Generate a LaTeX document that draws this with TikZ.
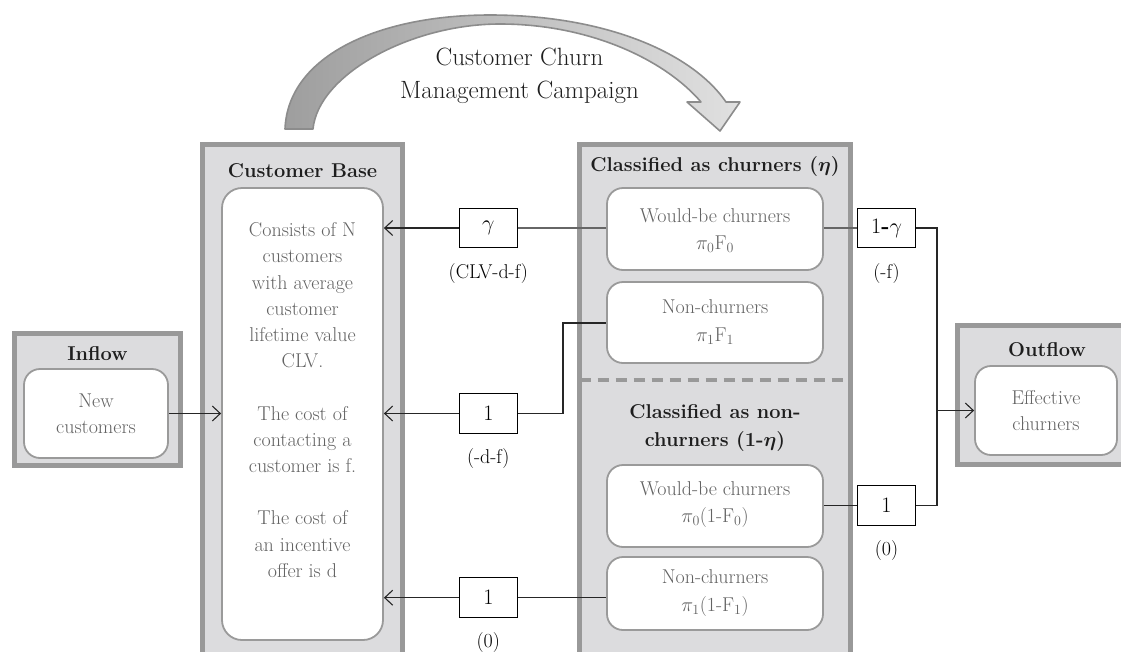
\RequirePackage{fix-cm}
\documentclass[tikz,border=0pt]{standalone}
\usepackage{amsmath,bm}
\usetikzlibrary{arrows.meta}
\definecolor{obord}{HTML}{999999}
\definecolor{ofill}{HTML}{DCDCDE}
\definecolor{ibord}{HTML}{9A9A9A}
\definecolor{btext}{HTML}{636363}
\definecolor{ttext}{HTML}{1E1E1E}
\begin{document}
\begin{tikzpicture}[x=1pt,y=-1pt,
  outerbox/.style={draw=obord, line width=5pt, fill=ofill, inner sep=0pt, outer sep=0pt},
  innerbox/.style={draw=ibord, line width=1.8pt, fill=white, rounded corners=16pt, inner sep=0pt},
  body/.style={text=btext, font=\fontsize{20}{26.2}\selectfont, align=center, inner sep=0pt},
  boxtext/.style={text=btext, font=\fontsize{20}{27.5}\selectfont, align=center, inner sep=0pt},
  title/.style={text=ttext, font=\fontsize{20}{28.7}\selectfont\bfseries, align=center, inner sep=0pt},
  lbox/.style={draw=black, line width=1pt, fill=white, minimum width=58pt, minimum height=39.5pt, inner sep=0pt, font=\fontsize{22}{26}\selectfont},
  lab/.style={font=\fontsize{20}{24}\selectfont, inner sep=0pt, anchor=base},
  conn/.style={draw=black!85, line width=1.1pt},
  connl/.style={draw=black!60, line width=1.1pt},
  arr/.style={conn, -{Straight Barb[length=8pt,width=15pt,line width=1.1pt]}},
]
\useasboundingbox (0,0) rectangle (1121,651);
\clip (0,0) rectangle (1121,651);

% curved campaign arrow
\shadedraw[left color=black!38, right color=black!12, draw=black!45, line width=1.6pt, line join=round]
  (285,129) .. controls (288,55) and (380,15) .. (490,15)
  .. controls (600,15) and (690,50) .. (726,102)
  -- (740,102) -- (720,131) -- (687,102) -- (701,102)
  .. controls (665,60) and (590,24) .. (500,24)
  .. controls (410,24) and (318,75) .. (313,129) -- cycle;
\node[font=\fontsize{25}{33}\selectfont, text=ttext, align=center, inner sep=0pt] (camp) at (519.5,76.3) {Customer Churn\\Management Campaign};

% outer boxes
\node[outerbox, minimum width=200pt, minimum height=555.5pt] (cbo) at (302.5,422.25) {};
\node[outerbox, minimum width=166pt, minimum height=132.5pt] (ifo) at (97.5,399.25) {};
\node[outerbox, minimum width=165.5pt, minimum height=139pt] (ofo) at (1040.25,395) {};
\node[outerbox, minimum width=271pt, minimum height=555.5pt] (clo) at (715,422.25) {};
\draw[obord, line width=4pt, dash pattern=on 11pt off 7pt] (clo.west |- 0,380) -- (clo.east |- 0,380);

% inner boxes
\node[innerbox, rounded corners=20pt, minimum width=161pt, minimum height=452pt] (cbi) at (302.5,414) {};
\node[innerbox, minimum width=144pt, minimum height=89pt] (ifi) at (96,413.5) {};
\node[innerbox, minimum width=142pt, minimum height=89pt] (ofi) at (1046,410.5) {};
\node[innerbox, minimum width=216pt, minimum height=82pt] (wb1) at (715,229) {};
\node[innerbox, minimum width=216pt, minimum height=81pt] (nc1) at (715,322.5) {};
\node[innerbox, minimum width=216pt, minimum height=82pt] (wb2) at (715,506) {};
\node[innerbox, minimum width=216pt, minimum height=73pt] (nc2) at (715,593.5) {};

% titles
\node[title, anchor=base] (cbt) at (302.5,177) {Customer Base};
\node[title, anchor=base] (ift) at (97.5,360) {Inflow};
\node[title, anchor=base] (oft) at (1047,356) {Outflow};
\node[title, anchor=base] (clt1) at (715,171.7) {Classified as churners ($\bm{\eta}$)};
\node[title] (clt2) at (715,427.9) {Classified as non-\\churners (1-$\bm{\eta}$)};

% body texts
\node[body] (cbb) at (302.5,400) {Consists of N\\customers\\with average\\customer\\lifetime value\\CLV.\\[26.2pt]The cost of\\contacting a\\customer is f.\\[26.2pt]The cost of\\an incentive\\offer is d};
\node[body] (ifb) at (96,413.5) {New\\customers};
\node[body] (ofb) at (1046,410.5) {Effective\\churners};
\node[boxtext] (wb1t) at (715,230.5) {Would-be churners\\$\pi_0\mathrm{F}_0$};
\node[boxtext] (nc1t) at (715,322) {Non-churners\\$\pi_1\mathrm{F}_1$};
\node[boxtext] (wb2t) at (715,504.5) {Would-be churners\\$\pi_0$(1-F$_0$)};
\node[boxtext] (nc2t) at (715,593) {Non-churners\\$\pi_1$(1-F$_1$)};

% label boxes
\node[lbox] (g) at (488.3,228) {$\gamma$};
\node[lbox] (m1) at (488.3,413.5) {1};
\node[lbox] (b1) at (488.3,597.7) {1};
\node[lbox] (r1) at (886.5,228) {1\textbf{-}$\gamma$};
\node[lbox] (r2) at (886.5,505.3) {1};
\node[lab] (gl) at (488.3,278) {(CLV-d-f)};
\node[lab] (m1l) at (488.3,463) {(-d-f)};
\node[lab] (b1l) at (488.3,647) {(0)};
\node[lab] (r1l) at (886.5,278) {(-f)};
\node[lab] (r2l) at (886.5,555) {(0)};

% connectors
\coordinate (j) at (937,0);
\coordinate (k) at (563,323);
\draw[connl] (g.east) -- (g.east -| wb1.west);
\draw[arr] (g.west) -- (g.west -| cbi.east);
\draw[connl] (wb1.east |- r1) -- (r1.west);
\draw[conn] (r1.east) -- (r1.east -| j) -- (r2.east -| j) -- (r2.east);
\draw[arr] (j |- ofi.west) -- (ofi.west);
\draw[conn] (m1.east) -- (m1.east -| k) -- (k) -- (k -| nc1.west);
\draw[arr] (m1.west) -- (m1.west -| cbi.east);
\draw[conn] (wb2.east |- r2) -- (r2.west);
\draw[conn] (b1.east) -- (b1.east -| nc2.west);
\draw[arr] (b1.west) -- (b1.west -| cbi.east);
\draw[arr] (ifi.east) -- (ifi.east -| cbi.west);
\end{tikzpicture}
\end{document}
